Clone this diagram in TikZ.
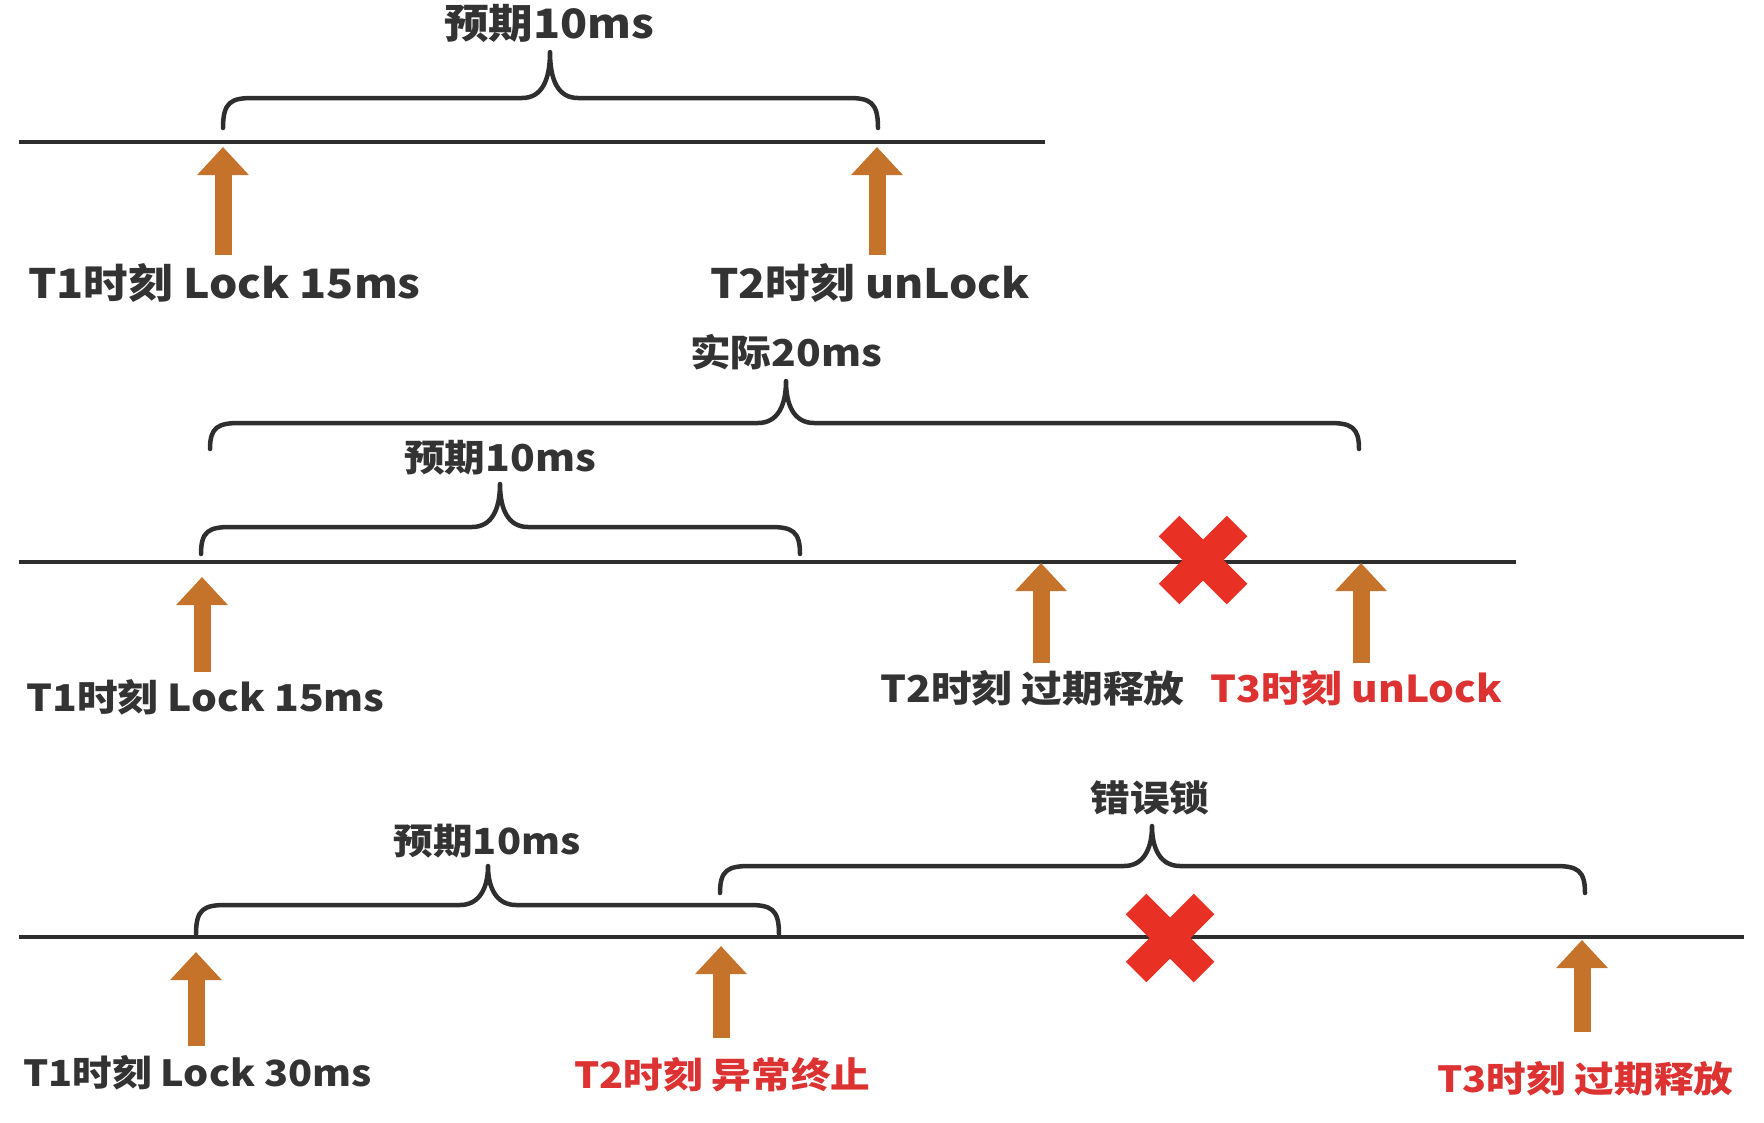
\documentclass[tikz,border=0pt]{standalone}
\usepackage{fontspec}
\setmainfont{Noto Sans CJK SC}[FakeStretch=1.1]
\usetikzlibrary{arrows.meta}
\definecolor{txt}{HTML}{333333}
\definecolor{redt}{HTML}{DC3232}
\definecolor{xred}{HTML}{E83024}
\definecolor{arrc}{HTML}{C5722A}
\definecolor{linec}{HTML}{2E2E2E}
\tikzset{
  timeline/.style={draw=linec, line width=4.5pt},
  bracepath/.style={draw=linec, line width=4.5pt, line cap=round, line join=round},
  ptr/.style={draw=arrc, line width=17pt, -{Triangle[width=50pt,length=28pt]}},
  crossbar/.style={draw=xred, line width=29pt},
  biglbl/.style={font=\fontsize{40.5}{48}\selectfont\bfseries, text=txt, inner sep=0pt},
  medlbl/.style={font=\fontsize{37}{44}\selectfont\bfseries, text=txt, inner sep=0pt},
  smllbl/.style={font=\fontsize{36}{43}\selectfont\bfseries, text=txt, inner sep=0pt},
  redtxt/.style={text=redt},
}
% x1 x2 xc ytip yhoriz ybottom
\newcommand\tlbrace[6]{%
  \draw[bracepath] (#1,#6) .. controls (#1,#5+4) and (#1+8,#5) .. (#1+30,#5)
    -- (#3-28,#5) .. controls (#3-8,#5) and (#3,#5-18) .. (#3,#4)
    .. controls (#3,#5-18) and (#3+8,#5) .. (#3+28,#5)
    -- (#2-30,#5) .. controls (#2-8,#5) and (#2,#5+4) .. (#2,#6);}
\newcommand\tlcross[2]{%
  \draw[crossbar] (#1-34,#2-34) -- (#1+34,#2+34);
  \draw[crossbar] (#1-34,#2+34) -- (#1+34,#2-34);}
\begin{document}
\begin{tikzpicture}[x=1pt,y=-1pt]
\useasboundingbox (0,0) rectangle (1764,1122);
% ---------- row 1 ----------
\coordinate (r1s) at (19,142); \coordinate (r1e) at (1045,142);
\draw[timeline] (r1s) -- (r1e);
\tlbrace{223}{878}{550}{52}{98}{128}
\coordinate (a1b) at (223,255); \coordinate (a1t) at (223,147);
\coordinate (a2b) at (877,255); \coordinate (a2t) at (877,147);
\draw[ptr] (a1b) -- (a1t);
\draw[ptr] (a2b) -- (a2t);
\node[biglbl] (r1top) at (549,23) {预期10ms};
\node[biglbl, anchor=west] (r1l1) at (28,283) {T1时刻 Lock 15ms};
\node[biglbl, anchor=west] (r1l2) at (710,283) {T2时刻 unLock};
% ---------- row 2 ----------
\coordinate (r2s) at (19,562); \coordinate (r2e) at (1516,562);
\draw[timeline] (r2s) -- (r2e);
\tlbrace{210}{1359}{786}{381}{423}{449}
\tlbrace{201}{800}{500}{484}{527}{554}
\coordinate (b1b) at (202,672); \coordinate (b1t) at (202,577);
\coordinate (b2b) at (1041,663); \coordinate (b2t) at (1041,563);
\coordinate (b3b) at (1361,663); \coordinate (b3t) at (1361,563);
\draw[ptr] (b1b) -- (b1t);
\draw[ptr] (b2b) -- (b2t);
\draw[ptr] (b3b) -- (b3t);
\tlcross{1203}{560}
\node[medlbl] (r2top) at (786,352) {实际20ms};
\node[medlbl] (r2mid) at (500,458) {预期10ms};
\node[medlbl, anchor=west] (r2l1) at (26,697) {T1时刻 Lock 15ms};
\node[medlbl, anchor=west] (r2l2) at (880,688) {T2时刻 过期释放};
\node[medlbl, redtxt, anchor=west] (r2l3) at (1210,688) {T3时刻 unLock};
% ---------- row 3 ----------
\coordinate (r3s) at (19,937); \coordinate (r3e) at (1744,937);
\draw[timeline] (r3s) -- (r3e);
\tlbrace{196}{779}{488}{866}{905}{934}
\tlbrace{720}{1585}{1152}{826}{866}{893}
\coordinate (c1b) at (196,1046); \coordinate (c1t) at (196,952);
\coordinate (c2b) at (721,1038); \coordinate (c2t) at (721,946);
\coordinate (c3b) at (1582,1032); \coordinate (c3t) at (1582,940);
\draw[ptr] (c1b) -- (c1t);
\draw[ptr] (c2b) -- (c2t);
\draw[ptr] (c3b) -- (c3t);
\tlcross{1170}{938}
\node[smllbl] (r3mid) at (487,841) {预期10ms};
\node[smllbl] (r3err) at (1150,798) {错误锁};
\node[smllbl, anchor=west] (r3l1) at (23,1073) {T1时刻 Lock 30ms};
\node[smllbl, redtxt, anchor=west] (r3l2) at (574,1075) {T2时刻 异常终止};
\node[smllbl, redtxt, anchor=west] (r3l3) at (1437,1079) {T3时刻 过期释放};
\end{tikzpicture}
\end{document}
